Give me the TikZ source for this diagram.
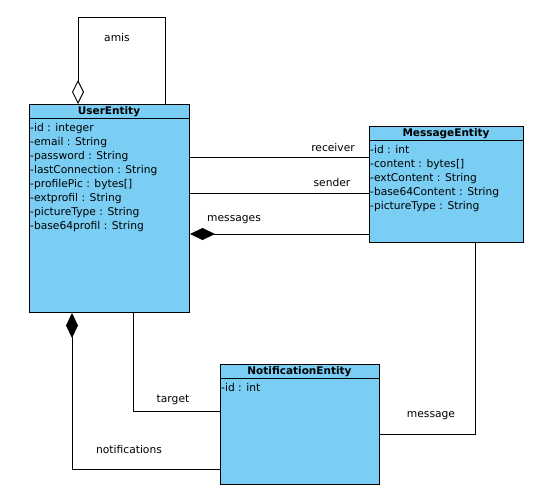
\documentclass[tikz,border=0pt]{standalone}
\usepackage{fontspec}
\setmainfont{DejaVu Sans}
\usetikzlibrary{arrows.meta}
\definecolor{classfill}{RGB}{122,206,244}
\tikzset{
  classbox/.style={draw=black, fill=classfill, line width=1pt, anchor=north west, inner sep=0pt},
  ctitle/.style={font=\fontsize{10.5}{12}\selectfont\bfseries, inner sep=0pt},
  attrs/.style={anchor=north west, align=left, inner sep=0pt, font=\fontsize{10.7}{14}\selectfont},
  lbl/.style={font=\fontsize{10.7}{13}\selectfont, inner sep=0pt},
  conn/.style={line width=1pt},
  odiam/.style={-{Diamond[open,length=24pt,width=12pt,line width=1pt]}},
  fdiam/.style={-{Diamond[length=25pt,width=12pt]}},
}
\begin{document}
\begin{tikzpicture}[x=1pt,y=-1pt]
\useasboundingbox (0,0) rectangle (534,495);
% UserEntity
\node[classbox, minimum width=160pt, minimum height=208pt] (user) at (29,104) {};
\draw[conn] ([yshift=-14pt]user.north west) -- ([yshift=-14pt]user.north east);
\node[ctitle] (userT) at (109,111.5) {UserEntity};
\node[attrs] (userA) at (30,123) {-id : integer\\-email : String\\-password : String\\-lastConnection : String\\-profilePic : bytes[]\\-extprofil : String\\-pictureType : String\\-base64profil : String};
% MessageEntity
\node[classbox, minimum width=154pt, minimum height=116pt] (msg) at (369,126) {};
\draw[conn] ([yshift=-14pt]msg.north west) -- ([yshift=-14pt]msg.north east);
\node[ctitle] (msgT) at (446,133.5) {MessageEntity};
\node[attrs] (msgA) at (370,145) {-id : int\\-content : bytes[]\\-extContent : String\\-base64Content : String\\-pictureType : String};
% NotificationEntity
\node[classbox, minimum width=159pt, minimum height=120pt] (notif) at (220,364) {};
\draw[conn] ([yshift=-14pt]notif.north west) -- ([yshift=-14pt]notif.north east);
\node[ctitle] (notifT) at (299.5,371.5) {NotificationEntity};
\node[attrs] (notifA) at (221,383) {-id : int};
% coordinates
\coordinate (amisR) at (165,18);
\coordinate (amisL) at (78,18);
\coordinate (rcv) at (0,157);
\coordinate (snd) at (0,193);
\coordinate (mgs) at (0,234);
\coordinate (mb) at (475,434);
\coordinate (tg) at (133,411);
\coordinate (nt) at (72,469);
% connectors
\draw[conn, odiam] (user.north -| amisR) -- (amisR) -- (amisL) -- (user.north -| amisL);
\node[lbl] (amisL1) at (117,37.5) {amis};
\draw[conn] (user.east |- rcv) -- (msg.west |- rcv);
\node[lbl] (rcvL) at (333,147.5) {receiver};
\draw[conn] (user.east |- snd) -- (msg.west |- snd);
\node[lbl] (sndL) at (332,182.5) {sender};
\draw[conn, fdiam] (msg.west |- mgs) -- (user.east |- mgs);
\node[lbl] (mgsL) at (234,219.5) {messages};
\draw[conn] (msg.south -| mb) -- (mb) -- (notif.east |- mb);
\node[lbl] (mbL) at (431,415.5) {message};
\draw[conn] (user.south -| tg) -- (tg) -- (notif.west |- tg);
\node[lbl] (tgL) at (173,399.5) {target};
\draw[conn, fdiam] (notif.west |- nt) -- (nt) -- (user.south -| nt);
\node[lbl] (ntL) at (129,449.5) {notifications};
\end{tikzpicture}
\end{document}
